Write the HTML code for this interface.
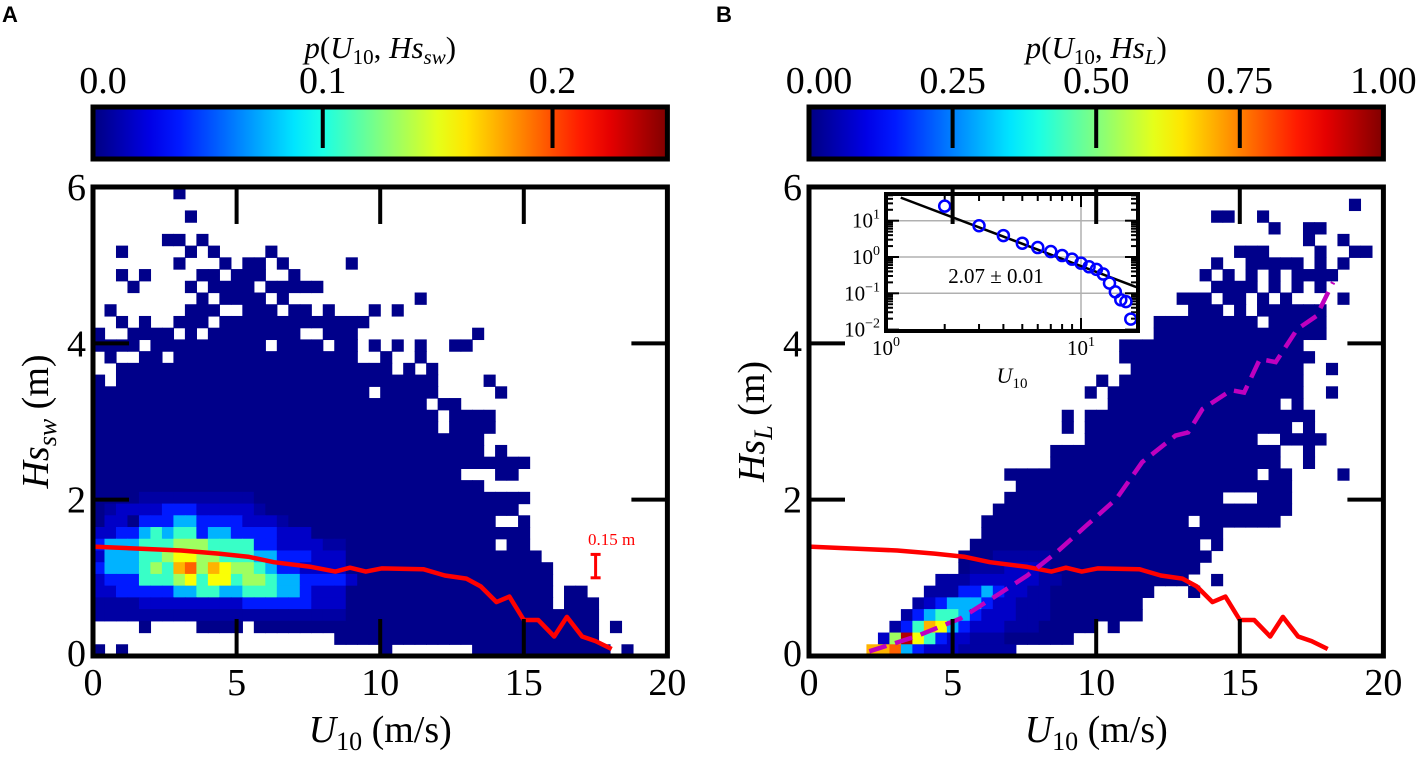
<!DOCTYPE html>
<html><head><meta charset="utf-8"><style>
html,body{margin:0;padding:0;background:#fff;}
svg{display:block;font-family:"Liberation Serif",serif;}
</style></head><body>
<svg id="fig" width="1426" height="757" viewBox="0 0 1426 757" xmlns="http://www.w3.org/2000/svg">
<defs>
<linearGradient id="jet" x1="0" x2="1" y1="0" y2="0"></linearGradient>
<clipPath id="insetClip"><rect x="886" y="194" width="252" height="137"/></clipPath>
</defs>
<g id="root"></g>
</svg>
<script>
// ---------- data ----------
const rowsLeft = [
[[7,7]],[],[[8,8]],[],[[6,7],[9,9]],[[2,2],[8,8],[10,10],[15,15]],
[[7,7],[11,11],[13,14],[16,16],[22,22]],[[2,2],[4,4],[9,10],[12,14],[17,17]],
[[3,3],[8,8],[10,13],[15,19]],[[9,9],[11,14],[16,16],[28,28]],
[[1,1],[8,10],[13,15],[17,18],[20,20],[24,24],[26,26]],[[2,2],[4,4],[7,9],[11,23]],
[[0,0],[3,6],[8,8],[10,17],[20,22],[33,33]],[[0,3],[5,14],[16,19],[21,22],[24,24],[26,26],[28,28],[31,32]],
[[1,1],[4,5],[7,22],[25,25],[28,28]],[[2,25],[27,27],[29,29]],[[0,0],[2,29],[34,34]],
[[0,23],[25,29],[35,35]],[[0,28],[30,31]],[[0,29],[31,34]],[[0,29],[31,34]],[[0,33]],
[[0,33],[35,35]],[[0,37]],[[0,31],[35,36]],[[0,33]],[[0,37]],[[0,36]],[[0,34],[37,37]],
[[0,37]],[[0,34],[36,37]],[[0,38]],[[0,39]],[[0,39]],[[0,39],[41,42]],[[0,39],[41,43]],
[[0,43]],[[4,4],[9,12],[14,43],[45,45]],[[21,43]],[[0,0],[2,2],[25,25],[33,44],[46,46]]
];
const levelsLeft = {
26:"0000111111111100",27:"012222333222221",28:"02203334433332221",
29:"2233454553443333222",30:"3444555666555533222211",31:"2444556776655544333222",
32:"3444565896876654332222",33:"23335556757756654433332",34:"2233333445544555443222",
35:"1111222222222333333222",36:"1111111111111111111111"
};
const rowsRight = [
[],[[47,47]],[[35,36],[39,39]],[[40,40],[43,44]],[[43,43],[46,46]],[[37,39],[44,44],[47,48]],
[[35,35],[38,42],[44,44],[46,46]],[[34,34],[36,36],[38,38],[40,40],[42,45]],
[[35,38],[40,40],[42,42],[44,44]],[[32,34],[36,37],[39,39],[41,41],[46,46]],
[[33,35],[37,37],[39,44]],[[30,38],[40,44]],[[30,44]],[[27,42]],[[27,43]],[[28,42],[45,45]],
[[25,25],[27,42]],[[24,24],[26,42],[45,45]],[[26,40],[42,42]],[[22,22],[24,43]],
[[22,22],[24,41],[43,43]],[[24,38],[41,44]],[[21,40],[43,43]],[[21,40],[43,43]],
[[17,38],[40,41],[46,46]],[[18,41]],[[17,35],[39,41]],[[16,41]],[[15,32],[34,40]],
[[15,35]],[[14,33],[35,35]],[[13,34]],[[13,33]],[[11,32],[35,35]],[[10,29],[33,33]],
[[9,28]],[[8,28]],[[7,24],[26,26]],[[6,22]],[[5,17]]
];
const levelsRight = {
31:"000000000000000011111",32:"000000000000001112221",33:"0000000000011122222211",
34:"000000000011133432211",35:"000000000123444322111",36:"000000001345543222111",
37:"00000001358743222111",38:"00000026a75322111",39:"000008894322211111"
};
const levelT = [0.01,0.035,0.07,0.15,0.3,0.43,0.53,0.62,0.7,0.78,0.95];
const meanU = [0,1.78,3.07,4.37,5.4,6.3,7.6,8.44,8.95,9.5,10.05,11.5,12.25,13.0,13.5,14.05,14.5,15.0,15.5,16.06,16.5,17.03,17.5,18.06];
const meanHs = [1.40,1.37,1.35,1.31,1.27,1.20,1.14,1.08,1.13,1.08,1.12,1.11,1.03,0.99,0.89,0.69,0.76,0.46,0.46,0.25,0.50,0.25,0.19,0.09];
const dashU = [2.1,3.72,5.27,6.56,7.6,8.63,9.66,10.7,11.6,12.76,13.2,13.7,14.7,15.15,15.7,16.25,17.0,17.67,18.25];
const dashHs = [0.06,0.25,0.48,0.78,1.03,1.33,1.67,2.01,2.48,2.82,2.86,3.16,3.40,3.37,3.80,3.76,4.18,4.35,4.78];
const insetU = [2,3,4,5,6,7,8,9,10,11,12,13,14,15,16,17,18];
const insetLogP = [1.40,0.86,0.59,0.38,0.26,0.15,0.04,-0.06,-0.17,-0.27,-0.34,-0.47,-0.72,-0.96,-1.18,-1.23,-1.71];
const fitSlope = -2.04, fitIntercept = 1.79;
const xTicks = [0,5,10,15,20];
const yTicks = [0,2,4,6];
const cbLeftTicks = [0.0,0.1,0.2], cbLeftLabels = ["0.0","0.1","0.2"], cbLeftMax = 0.25;
const cbRightTicks = [0,0.25,0.5,0.75,1.0], cbRightLabels = ["0.00","0.25","0.50","0.75","1.00"], cbRightMax = 1.0;

// ---------- helpers ----------
const NS="http://www.w3.org/2000/svg";
const root=document.getElementById('root');
function mk(tag,attrs,parent){const e=document.createElementNS(NS,tag);for(const k in attrs)e.setAttribute(k,attrs[k]);(parent||root).appendChild(e);return e;}
function cl(v){return Math.max(0,Math.min(1,v));}
function jet(t){const r=cl(1.5-Math.abs(4*t-3)),g=cl(1.5-Math.abs(4*t-2)),b=cl(1.5-Math.abs(4*t-1));
 return `rgb(${Math.round(r*255)},${Math.round(g*255)},${Math.round(b*255)})`;}
const grad=document.getElementById('jet');
for(let i=0;i<=20;i++){const s=document.createElementNS(NS,'stop');s.setAttribute('offset',(i/20));s.setAttribute('stop-color',jet(i/20));grad.appendChild(s);}

const Y0=656, YPX=78.17, XPX=28.72, CW=0.4, CH=0.15;
function panel(x0,rows,levels,name){
 const g=mk('g',{});
 
 
 const xs=v=>x0+v*XPX, ys=v=>Y0-v*YPX;
 const hm=mk('g',{},g);
 
 
 rows.forEach((runs,r)=>{
  const lv=levels[r]||"";
  runs.forEach(([s,e])=>{
   for(let c=s;c<=e;c++){
    const ch=lv[c]; const L=ch===undefined?0:(ch==='a'?10:parseInt(ch));
    const yTop=6-CH*r;
    const rc=mk('rect',{x:xs(c*CW).toFixed(2),y:ys(yTop).toFixed(2),width:(CW*XPX+0.6).toFixed(2),height:(CH*YPX+0.6).toFixed(2),fill:jet(levelT[L])},hm);
    
    
   }
  });
 });
 return {g,xs,ys};
}
function axesFrame(P,x0,ylabel,cbTicks,cbLabels,cbMax,cbTitle){
 const {g,xs,ys}=P;
 [5,10,15].forEach(v=>{
  const t1=mk('line',{x1:xs(v),x2:xs(v),y1:ys(0),y2:ys(0)-37,stroke:'#000','stroke-width':4},g);
   
  const t2=mk('line',{x1:xs(v),x2:xs(v),y1:ys(6),y2:ys(6)+37,stroke:'#000','stroke-width':4},g);
   
 });
 [2,4].forEach(v=>{
  const t1=mk('line',{x1:xs(0),x2:xs(0)+36,y1:ys(v),y2:ys(v),stroke:'#000','stroke-width':4},g);
   
  const t2=mk('line',{x1:xs(20),x2:xs(20)-36,y1:ys(v),y2:ys(v),stroke:'#000','stroke-width':4},g);
   
 });
 const fr=mk('rect',{x:xs(0),y:ys(6),width:xs(20)-xs(0),height:ys(0)-ys(6),fill:'none',stroke:'#000','stroke-width':5},g);
  
 xTicks.forEach(v=>{
  const t=mk('text',{x:xs(v),y:695,'font-size':38,'text-anchor':'middle'},g); t.textContent=String(v);
   
 });
 yTicks.forEach(v=>{
  const t=mk('text',{x:xs(0)-7,y:ys(v)+(v===0?10:13),'font-size':38,'text-anchor':'end'},g); t.textContent=String(v);
   
 });
 const xl=mk('text',{x:xs(10),y:742,'font-size':38,'text-anchor':'middle'},g);
 xl.innerHTML='<tspan font-style="italic">U</tspan><tspan font-size="26" dy="8">10</tspan><tspan dy="-8"> (m/s)</tspan>';
  
 const yl=mk('text',{x:0,y:0,'font-size':38,'text-anchor':'middle',transform:`translate(${x0-45},${ys(3)}) rotate(-90)`},g);
 yl.innerHTML='<tspan font-style="italic">Hs</tspan><tspan font-size="26" font-style="italic" dy="8">'+ylabel+'</tspan><tspan dy="-8"> (m)</tspan>';
  
 const cb=mk('g',{},g);
  
 const cx=v=>xs(0)+v/cbMax*(xs(20)-xs(0));
 mk('rect',{x:xs(0),y:107,width:xs(20)-xs(0),height:52,fill:'url(#jet)',stroke:'#000','stroke-width':5},cb);
 cbTicks.forEach((v,i)=>{
  if(v>0&&v<cbMax){const l=mk('line',{x1:cx(v),x2:cx(v),y1:109,y2:148,stroke:'#000','stroke-width':4},cb);
    }
  const t=mk('text',{x:cx(v)+(v===0?10:0),y:93,'font-size':38,'text-anchor':'middle'},cb); t.textContent=cbLabels[i];
   
 });
 const ct=mk('text',{x:xs(10),y:58,'font-size':31,'text-anchor':'middle'},cb);
 ct.innerHTML='<tspan font-style="italic">p</tspan>(<tspan font-style="italic">U</tspan><tspan font-size="21" dy="6">10</tspan><tspan dy="-6">, </tspan><tspan font-style="italic">Hs</tspan><tspan font-size="21" font-style="italic" dy="6">'+cbTitle+'</tspan><tspan dy="-6">)</tspan>';
  
}
function linePath(xs,ys,X,Y){return X.map((v,i)=>(i?'L':'M')+xs(v).toFixed(1)+','+ys(Y[i]).toFixed(1)).join(' ');}

// ---------- left panel ----------
const PL=panel(93,rowsLeft,levelsLeft,'panel-a');
const ml=mk('path',{d:linePath(PL.xs,PL.ys,meanU,meanHs),fill:'none',stroke:'#ff0000','stroke-width':4.5,'stroke-linejoin':'round'},PL.g);
 
const eb=mk('g',{},PL.g);
 
const ebx=PL.xs(17.5), eby=PL.ys(1.15);
mk('line',{x1:ebx,x2:ebx,y1:eby-11.7,y2:eby+11.7,stroke:'#f00','stroke-width':3},eb);
mk('line',{x1:ebx-5,x2:ebx+5,y1:eby-11.7,y2:eby-11.7,stroke:'#f00','stroke-width':3},eb);
mk('line',{x1:ebx-5,x2:ebx+5,y1:eby+11.7,y2:eby+11.7,stroke:'#f00','stroke-width':3},eb);
const ebt=mk('text',{x:ebx+16,y:eby-21,'font-size':17,fill:'#f00','text-anchor':'middle'},eb); ebt.textContent='0.15 m';
axesFrame(PL,93,'sw',cbLeftTicks,cbLeftLabels,cbLeftMax,'sw');

// ---------- right panel ----------
const PR=panel(809,rowsRight,levelsRight,'panel-b');
const mr=mk('path',{d:linePath(PR.xs,PR.ys,meanU,meanHs),fill:'none',stroke:'#ff0000','stroke-width':4.5,'stroke-linejoin':'round'},PR.g);
 
const dl=mk('path',{d:linePath(PR.xs,PR.ys,dashU,dashHs),fill:'none',stroke:'#bf00bf','stroke-width':4.5,'stroke-dasharray':'18 9'},PR.g);
 
const IG=mk('g',{},PR.g);
 
const ix=u=>886+Math.log10(u)*195, iy=lp=>257-lp*36.3;
mk('rect',{x:886,y:194,width:252,height:137,fill:'#fff'},IG);
[1,0,-1].forEach(p=>mk('line',{x1:886,x2:1138,y1:iy(p),y2:iy(p),stroke:'#b0b0b0','stroke-width':1.5},IG));
mk('line',{x1:ix(10),x2:ix(10),y1:194,y2:331,stroke:'#b0b0b0','stroke-width':1.5},IG);
const tk=mk('g',{},IG);
for(let d=-3;d<=1;d++){for(let m=1;m<=9;m++){const yy=iy(d+Math.log10(m));if(yy<195||yy>330)continue;const L=m===1?13:7;
 mk('line',{x1:886,x2:886+L,y1:yy,y2:yy,stroke:'#000','stroke-width':2},tk);
 mk('line',{x1:1138,x2:1138-L,y1:yy,y2:yy,stroke:'#000','stroke-width':2},tk);}}
for(let d=0;d<=1;d++){for(let m=1;m<=9;m++){const xx=ix(Math.pow(10,d)*m);if(xx<887||xx>1137)continue;const L=m===1?13:7;
 mk('line',{x1:xx,x2:xx,y1:194,y2:194+L,stroke:'#000','stroke-width':2},tk);
 mk('line',{x1:xx,x2:xx,y1:331,y2:331-L,stroke:'#000','stroke-width':2},tk);}}
const fit=mk('line',{x1:ix(1.19),y1:iy(fitIntercept+fitSlope*Math.log10(1.19)),x2:ix(19.2),y2:iy(fitIntercept+fitSlope*Math.log10(19.2)),stroke:'#000','stroke-width':2.5,'clip-path':'url(#insetClip)'},IG);
 
insetU.forEach((u,i)=>{const c=mk('circle',{cx:ix(u),cy:iy(insetLogP[i]),r:5.5,fill:'none',stroke:'#0000ff','stroke-width':2.5},IG);
  });
mk('rect',{x:886,y:194,width:252,height:137,fill:'none',stroke:'#000','stroke-width':4},IG);
[[1,'1'],[0,'0'],[-1,'−1'],[-2,'−2']].forEach(([p,s])=>{const t=mk('text',{x:880,y:iy(p)+7,'font-size':21,'text-anchor':'end'},IG);
 t.innerHTML='10<tspan font-size="14" dy="-9">'+s+'</tspan>';  });
[[1,'0'],[10,'1']].forEach(([u,s])=>{const t=mk('text',{x:ix(u),y:355,'font-size':21,'text-anchor':'middle'},IG);
 t.innerHTML='10<tspan font-size="14" dy="-9">'+s+'</tspan>';  });
const il=mk('text',{x:1012,y:383,'font-size':22,'text-anchor':'middle'},IG);
il.innerHTML='<tspan font-style="italic">U</tspan><tspan font-size="15" dy="5">10</tspan>';
 
const ex=mk('text',{x:996,y:283,'font-size':21,'text-anchor':'middle'},IG); ex.textContent='2.07 ± 0.01';
 
axesFrame(PR,809,'L',cbRightTicks,cbRightLabels,cbRightMax,'L');

const A=mk('text',{x:2,y:22,'font-size':22,'font-weight':'bold','font-family':'Liberation Sans, sans-serif'}); A.textContent='A';
 
const B=mk('text',{x:716,y:22,'font-size':22,'font-weight':'bold','font-family':'Liberation Sans, sans-serif'}); B.textContent='B';
 
</script>
</body></html>
